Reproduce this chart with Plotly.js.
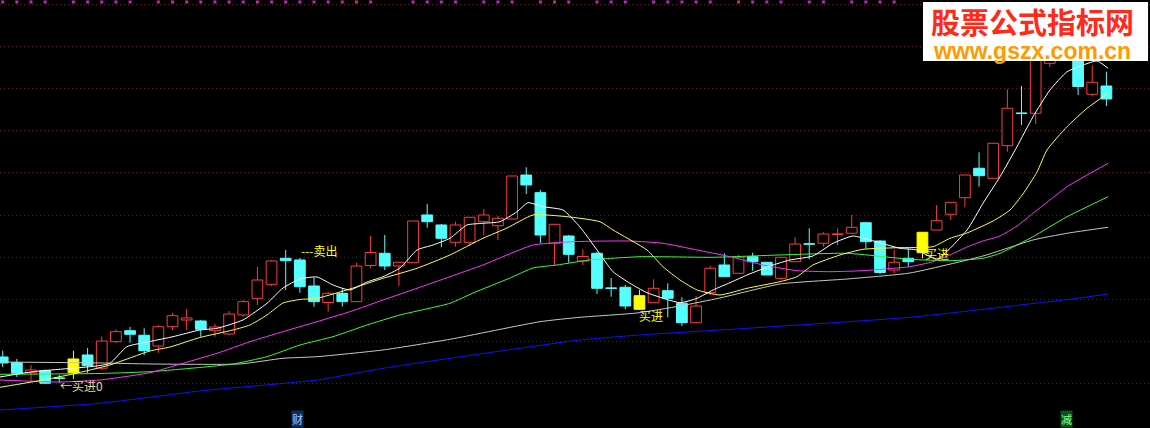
<!DOCTYPE html>
<html><head><meta charset="utf-8">
<script src="https://cdn.plot.ly/plotly-3.0.1.min.js"></script>
<style>html,body{margin:0;padding:0;background:#000;overflow:hidden}#chart{width:1150px;height:428px}</style>
</head><body><div id="chart"></div>
<script>
// ---- candle data (price units) ----
const open  = [106.25,104.90,102.52,103.00,101.26,105.78,106.73,103.57,109.89,112.50,111.41,108.87,113.45,115.05,114.81,112.50,111.72,116.24,120.20,123.53,129.71,129.31,123.13,119.21,121.39,119.40,128.00,130.90,127.88,128.67,140.01,137.63,133.52,133.42,138.41,137.46,139.05,149.51,145.31,133.28,135.01,129.07,130.90,122.65,122.82,120.82,119.16,122.01,119.02,114.40,121.54,128.12,126.15,130.09,128.76,124.96,128.90,133.18,133.28,135.37,135.66,138.17,133.82,126.93,129.71,135.89,136.44,140.17,144.12,151.11,148.73,156.48,164.25,164.18,176.06,178.04,179.23,168.70,170.67];
const high  = [107.75,105.78,104.35,103.33,101.97,107.75,108.39,111.08,112.84,113.38,113.07,113.86,116.71,117.66,115.05,114.10,117.19,119.80,127.72,129.31,131.69,129.78,125.20,121.70,122.58,128.67,135.01,135.25,128.90,138.58,142.62,137.87,138.41,139.53,141.43,139.77,149.28,151.34,145.95,137.87,135.25,131.85,131.28,125.03,123.37,122.18,124.72,123.77,120.44,120.75,127.88,130.90,130.50,131.04,128.76,130.02,134.70,136.84,135.89,136.84,140.01,138.34,134.06,131.69,132.09,135.89,142.38,143.10,149.51,154.91,157.12,169.88,170.67,181.60,180.41,184.45,180.41,175.54,174.07];
const low   = [103.87,101.50,100.62,99.83,100.07,101.02,102.45,103.16,109.58,109.65,106.73,107.27,112.67,112.67,111.08,111.08,111.48,115.83,118.61,123.13,122.18,121.54,118.21,117.02,118.26,119.40,127.34,126.93,123.13,128.67,136.99,132.33,132.47,132.64,135.25,134.06,139.05,145.00,133.28,128.12,128.67,128.12,121.23,120.58,117.59,117.42,119.16,115.69,113.62,114.40,120.99,125.34,126.15,126.77,125.74,124.55,128.90,129.47,132.47,132.87,135.66,132.04,125.98,126.22,127.72,129.71,136.44,138.82,141.84,146.73,148.73,155.05,161.40,161.64,175.19,177.32,168.53,168.22,165.91];
const close = [104.83,102.38,103.16,100.00,101.14,102.52,104.18,110.05,112.27,111.65,107.75,113.45,116.07,115.52,112.84,113.38,116.47,119.40,124.55,129.07,129.14,122.96,119.40,121.39,119.40,127.88,131.09,127.88,128.76,138.58,138.41,134.47,137.63,139.46,140.01,139.22,149.28,147.14,135.25,137.79,130.66,130.14,122.58,122.53,118.37,117.59,122.58,120.20,114.40,118.37,127.34,125.34,129.95,128.90,125.74,129.95,133.11,133.04,135.49,135.49,137.08,133.66,126.34,128.76,128.90,131.04,138.65,143.02,149.51,149.35,157.05,165.37,164.11,180.41,179.23,183.50,170.55,171.55,167.58];
const signalBars = [5,45,65];
const topDots = [0,1,2,3,5,6,7,8,9,11,12,13,14,15,16,17,18,19,20,21,22,23,24,25,26,29,30,31,32,34,35,36,38,39,40,42,43,44,46,47,48,49,50,52,53,54,55,57,58,60,61,62,63];

// ---- moving average lines (bar index, price) ----
const whiteX = [-0.19,2.14,6.66,7.58,8.78,10.41,12.04,13.94,15.15,16.98,18.68,19.81,21.01,22.21,23.34,24.54,25.75,26.88,28.08,29.28,30.41,31.61,32.81,33.94,35.14,36.35,37.12,38.18,39.60,40.80,42.00,43.13,44.33,45.53,47.86,49.07,50.20,51.40,52.60,54.44,55.64,57.26,58.68,60.09,61.29,63.41,64.61,66.03,68.15,69.28,70.48,71.68,72.81,74.01,75.22,76.35,77.34,78.12];
const whiteY = [101.50,102.76,104.11,104.75,108.70,109.94,111.08,112.67,113.07,115.05,119.02,122.65,124.79,125.27,123.37,122.18,124.08,125.34,127.41,131.69,132.87,134.47,137.63,138.03,138.41,140.79,142.93,141.98,141.19,137.15,131.69,126.53,123.77,121.54,119.16,120.20,122.18,123.91,125.74,128.12,129.31,130.26,133.28,135.01,134.06,132.09,131.69,129.55,136.44,142.79,149.11,156.24,163.37,169.72,174.07,175.66,176.61,174.88];
const yellowX = [-0.19,2.85,4.97,7.58,10.41,11.83,13.94,16.28,17.48,18.68,19.81,21.01,22.21,24.54,26.88,29.28,31.61,33.94,35.64,37.48,39.88,42.21,43.13,45.53,46.66,47.86,49.07,50.69,52.60,54.93,56.13,57.26,59.17,60.80,63.20,65.74,66.95,68.15,69.99,71.19,72.10,73.10,73.80,75.22,76.63,78.12];
const yellowY = [99.05,100.78,102.21,104.35,107.68,108.63,110.89,112.67,113.86,116.24,119.09,119.92,120.20,122.41,124.96,127.34,130.50,134.47,136.91,140.01,139.60,138.41,136.44,131.69,127.72,124.55,122.18,120.99,122.58,124.15,125.34,128.12,130.50,131.85,132.23,132.47,134.47,135.73,138.58,141.19,145.00,150.23,155.46,161.00,165.37,168.93];
const magentaX = [-0.19,4.05,6.88,10.41,12.74,15.15,17.48,19.81,22.21,24.54,26.88,29.28,31.61,33.94,35.64,37.48,40.30,44.33,46.66,49.07,51.40,53.73,56.13,58.47,60.80,64.12,65.74,66.95,68.15,69.28,70.48,71.68,72.81,74.01,75.22,76.63,78.12];
const magentaY = [100.78,100.31,100.78,102.52,104.75,107.13,109.89,112.27,114.64,117.02,119.80,122.58,125.34,128.12,130.50,132.87,133.66,133.82,133.28,131.69,130.09,128.12,126.77,126.53,126.77,127.72,128.90,130.50,132.40,133.82,135.01,137.39,140.41,143.57,146.73,149.51,152.29];
const greenX = [-0.19,6.88,10.41,13.94,16.28,18.68,21.01,23.34,25.75,28.08,31.61,33.24,35.85,37.48,39.17,41.51,45.04,50.20,54.93,59.67,64.12,66.95,69.28,70.48,72.81,75.22,78.12];
const greenY = [102.14,102.33,102.76,103.76,104.59,106.32,109.10,111.08,113.86,116.24,119.02,121.46,125.03,127.41,128.12,129.31,130.09,129.95,130.50,130.90,129.47,129.14,129.71,130.90,134.85,139.60,144.35];
const greyX = [-0.19,6.88,10.41,16.77,19.81,22.21,26.88,31.61,37.97,40.80,44.83,47.86,50.69,54.93,59.67,64.12,69.28,72.81,75.22,78.12];
const greyY = [105.06,104.83,104.59,104.59,105.94,106.32,107.92,110.46,114.64,115.69,116.71,118.37,120.28,123.60,124.79,126.22,130.26,134.06,135.66,137.08];
const blueX = [-0.19,6.88,13.94,22.21,26.88,31.61,40.80,45.04,52.60,64.12,75.92,78.12];
const blueY = [93.65,95.25,98.17,100.78,103.57,105.94,110.29,111.48,113.07,115.69,120.20,121.23];

// ---- build traces ----
const xs = open.map((_, i) => i);
const kind = xs.map(i => signalBars.includes(i) ? 'sig' : (close[i] >= open[i] ? 'up' : 'down'));
const RED = '#ff3a3a', CYAN = '#54ffff', YEL = '#ffff00';

function wickTrace(k, color) {
  const x = [], y = [];
  xs.filter(i => kind[i] === k).forEach(i => {
    const top = Math.max(open[i], close[i]), bot = Math.min(open[i], close[i]);
    x.push(i, i, null, i, i, null);
    y.push(high[i], top, null, bot, low[i], null);
  });
  return {type:'scatter', mode:'lines', x, y, line:{color, width:1}, hoverinfo:'skip', showlegend:false};
}
function bodyTrace(k, fill, edge) {
  const ii = xs.filter(i => kind[i] === k);
  return {type:'bar', x: ii,
    base: ii.map(i => Math.min(open[i], close[i])),
    y: ii.map(i => Math.max(Math.abs(close[i] - open[i]), 0.15)),
    width: 0.76, marker:{color: fill, line:{color: edge, width: 1}},
    hoverinfo:'skip', showlegend:false};
}
function maTrace(x, y, color) {
  return {type:'scatter', mode:'lines', x, y, line:{color, width:1, shape:'spline', smoothing:0.5}, hoverinfo:'skip', showlegend:false};
}

const traces = [
  bodyTrace('up', '#000000', RED),
  bodyTrace('down', CYAN, CYAN),
  bodyTrace('sig', YEL, YEL),
  wickTrace('up', RED),
  wickTrace('down', CYAN),
  wickTrace('sig', YEL),
  maTrace(blueX, blueY, '#1010ff'),
  maTrace(greyX, greyY, '#c8c8c8'),
  maTrace(greenX, greenY, '#33ff33'),
  maTrace(magentaX, magentaY, '#ff33ff'),
  maTrace(yellowX, yellowY, '#ffff40'),
  maTrace(whiteX, whiteY, '#ffffff'),
  {type:'scatter', mode:'markers', x: topDots, y: topDots.map(() => 190.64),
   marker:{symbol:'square', size:3, color:'#b030b0'}, hoverinfo:'skip', showlegend:false}
];

const cjk = 'Noto Sans CJK SC, sans-serif';
const watermark = '<b><span style="color:#ff2a1a;font-size:29px;font-family:Noto Sans CJK SC">股票公式指标网</span>' +
                  '<br><span style="color:#ff9a00;font-size:23px;font-family:Liberation Sans">www.gszx.com.cn</span></b>';
const layout = {
  width: 1150, height: 428,
  margin: {l:0, r:0, t:0, b:0, pad:0},
  paper_bgcolor: '#000', plot_bgcolor: '#000',
  barmode: 'overlay',
  showlegend: false,
  xaxis: {range: [-0.19, 81.08], showgrid:false, zeroline:false, showticklabels:false, ticks:'', showline:false, fixedrange:true},
  yaxis: {range: [89.37, 191.11], tickvals:[100,110,120,130,140,150,160,170,180,190],
          showgrid:true, gridcolor:'#6a1818', gridwidth:1, griddash:'1px,3px',
          zeroline:false, showticklabels:false, ticks:'', showline:false, fixedrange:true},
  shapes: [
    {type:'rect', xref:'paper', yref:'paper', x0:0.8026, x1:0.9983, y0:0.8575, y1:0.9953,
     fillcolor:'#ffffff', line:{width:0}, layer:'above'}
  ],
  annotations: [
    {x:20.94, y:131.45, xanchor:'left', yanchor:'middle', text:'---卖出', showarrow:false, font:{family:cjk, size:12, color:YEL}},
    {x:45.85, y:116.2, xanchor:'center', yanchor:'middle', text:'买进', showarrow:false, font:{family:cjk, size:12, color:YEL}},
    {x:66.03, y:130.8, xanchor:'center', yanchor:'middle', text:'买进', showarrow:false, font:{family:cjk, size:12, color:YEL}},
    {x:3.91, y:99.36, xanchor:'left', yanchor:'middle', text:'←买进0', showarrow:false, font:{family:cjk, size:12, color:'#e6dc9a'}},
    {x:20.8, y:91.4, xanchor:'center', yanchor:'middle', text:'财', showarrow:false, bgcolor:'#0e2e5a', borderpad:0, font:{family:cjk, size:11, color:'#a8c8ff'}},
    {x:75.15, y:91.4, xanchor:'center', yanchor:'middle', text:'减', showarrow:false, bgcolor:'#0f4f1c', borderpad:0, font:{family:cjk, size:11, color:'#8cff8c'}},
    {xref:'paper', yref:'paper', x:0.898, y:0.925, xanchor:'center', yanchor:'middle', align:'center', text: watermark, showarrow:false,
     font:{family:cjk, size:19, color:'#ff2a1a'}}
  ]
};

Plotly.newPlot('chart', traces, layout, {staticPlot:true, displayModeBar:false});
</script>
</body></html>
